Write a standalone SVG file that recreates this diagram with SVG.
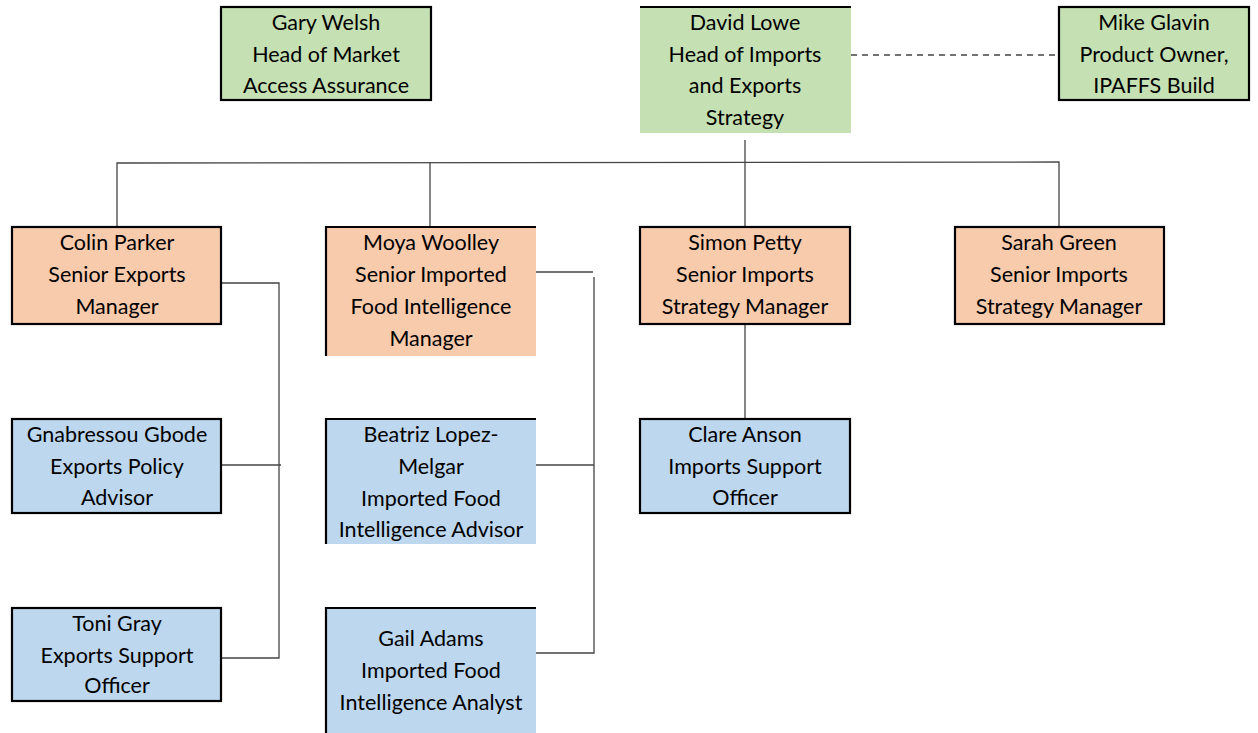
<svg xmlns="http://www.w3.org/2000/svg" width="1258" height="733" viewBox="0 0 1258 733">
<style>
text{font-family:Lato,"Open Sans","Liberation Sans",sans-serif;font-size:21.5px;fill:#000;text-anchor:middle;dominant-baseline:central}
.g{fill:#C5E0B3}.o{fill:#F8CBAD}.b{fill:#BDD7EE}
.bd{fill:none;stroke:#000;stroke-width:2.2}
.c{fill:none;stroke:#444;stroke-width:1.3}
</style>
<rect width="1258" height="733" fill="#fff"/>
<g id="connectors">
<line class="c" x1="851" y1="55" x2="1059" y2="55" stroke-dasharray="6,5"/>
<polyline class="c" points="117,227 117,163 1059,162 1059,227"/>
<line class="c" x1="430" y1="163" x2="430" y2="227"/>
<line class="c" x1="745" y1="140" x2="745" y2="227"/>
<line class="c" x1="745" y1="324" x2="745" y2="419"/>
<polyline class="c" points="221,283 279,283 279,658 221,658"/>
<line class="c" x1="221" y1="465" x2="281" y2="465"/>
<polyline class="c" points="536,272 593,272"/>
<polyline class="c" points="594,277 594,653 534,653"/>
<line class="c" x1="536" y1="465" x2="594" y2="465"/>
</g>
<g id="gary">
<rect class="g" x="221" y="7" width="210" height="93"/><rect class="bd" x="221" y="7" width="210" height="93"/>
<text x="326" y="22">Gary Welsh</text><text x="326" y="54">Head of Market</text><text x="326" y="85">Access Assurance</text>
</g>
<g id="david">
<rect class="g" x="640" y="7" width="211" height="126"/><line class="bd" x1="640" y1="7" x2="851" y2="7"/>
<text x="745" y="22">David Lowe</text><text x="745" y="54">Head of Imports</text><text x="745" y="85">and Exports</text><text x="745" y="117">Strategy</text>
</g>
<g id="mike">
<rect class="g" x="1059" y="7" width="190" height="93"/><rect class="bd" x="1059" y="7" width="190" height="93"/>
<text x="1154" y="22">Mike Glavin</text><text x="1154" y="54">Product Owner,</text><text x="1154" y="85">IPAFFS Build</text>
</g>
<g id="colin">
<rect class="o" x="12" y="227" width="209" height="97"/><rect class="bd" x="12" y="227" width="209" height="97"/>
<text x="117" y="242">Colin Parker</text><text x="117" y="274">Senior Exports</text><text x="117" y="306">Manager</text>
</g>
<g id="moya">
<rect class="o" x="326" y="227" width="210" height="129"/><polyline class="bd" points="326,356 326,227 536,227"/>
<text x="431" y="242">Moya Woolley</text><text x="431" y="274">Senior Imported</text><text x="431" y="306">Food Intelligence</text><text x="431" y="338">Manager</text>
</g>
<g id="simon">
<rect class="o" x="640" y="227" width="210" height="97"/><rect class="bd" x="640" y="227" width="210" height="97"/>
<text x="745" y="242">Simon Petty</text><text x="745" y="274">Senior Imports</text><text x="745" y="306">Strategy Manager</text>
</g>
<g id="sarah">
<rect class="o" x="955" y="227" width="209" height="97"/><rect class="bd" x="955" y="227" width="209" height="97"/>
<text x="1059" y="242">Sarah Green</text><text x="1059" y="274">Senior Imports</text><text x="1059" y="306">Strategy Manager</text>
</g>
<g id="gnabressou">
<rect class="b" x="12" y="419" width="209" height="94"/><rect class="bd" x="12" y="419" width="209" height="94"/>
<text x="117" y="434">Gnabressou Gbode</text><text x="117" y="466">Exports Policy</text><text x="117" y="497">Advisor</text>
</g>
<g id="beatriz">
<rect class="b" x="326" y="419" width="210" height="125"/><polyline class="bd" points="326,544 326,419 536,419"/>
<text x="431" y="434">Beatriz Lopez-</text><text x="431" y="466">Melgar</text><text x="431" y="498">Imported Food</text><text x="431" y="529">Intelligence Advisor</text>
</g>
<g id="clare">
<rect class="b" x="640" y="419" width="210" height="94"/><rect class="bd" x="640" y="419" width="210" height="94"/>
<text x="745" y="434">Clare Anson</text><text x="745" y="466">Imports Support</text><text x="745" y="497">Officer</text>
</g>
<g id="toni">
<rect class="b" x="12" y="608" width="209" height="93"/><rect class="bd" x="12" y="608" width="209" height="93"/>
<text x="117" y="623">Toni Gray</text><text x="117" y="655">Exports Support</text><text x="117" y="685">Officer</text>
</g>
<g id="gail">
<rect class="b" x="326" y="608" width="210" height="125"/><polyline class="bd" points="326,733 326,608 536,608"/>
<text x="431" y="638">Gail Adams</text><text x="431" y="670">Imported Food</text><text x="431" y="702">Intelligence Analyst</text>
</g>
</svg>
